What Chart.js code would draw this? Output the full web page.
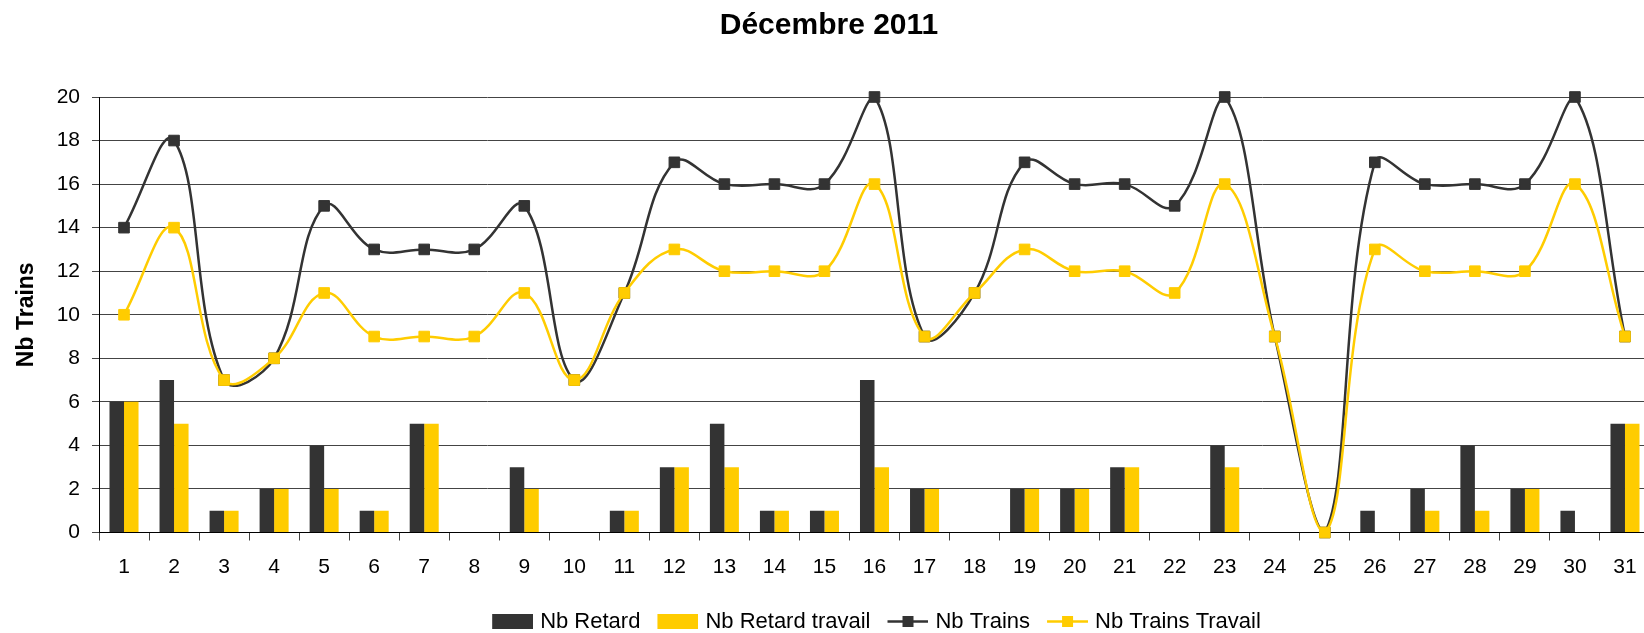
<!DOCTYPE html>
<html>
<head>
<meta charset="utf-8">
<script src="https://cdn.jsdelivr.net/npm/chart.js@4/dist/chart.umd.min.js"></script>
<style>
  html, body { margin: 0; padding: 0; background: #fff; overflow: hidden; }
  #wrap { position: relative; width: 1753px; height: 633px; }
  #titre {
    position: absolute; left: 0; top: 9px; width: 1658px;
    text-align: center; font: bold 30px 'Liberation Sans', Arial, sans-serif;
    line-height: 30px; color: #000;
  }
</style>
</head>
<body>
<div id="wrap">
  <canvas id="graph"></canvas>
  <div id="titre">Décembre 2011</div>
</div>
<script>
// Jours du mois
const jours = ['1','2','3','4','5','6','7','8','9','10','11','12','13','14','15','16',
               '17','18','19','20','21','22','23','24','25','26','27','28','29','30','31'];

// Barres
const nbRetard =        [6, 7, 1, 2, 4, 1, 5, 0, 3, 0, 1, 3, 5, 1, 1, 7, 2, 0, 2, 2, 3, 0, 4, 0, 0, 1, 2, 4, 2, 1, 5];
const nbRetardTravail = [6, 5, 1, 2, 2, 1, 5, 0, 2, 0, 1, 3, 3, 1, 1, 3, 2, 0, 2, 2, 3, 0, 3, 0, 0, 0, 1, 1, 2, 0, 5];

// Courbes
const nbTrains =        [14, 18, 7, 8, 15, 13, 13, 13, 15, 7, 11, 17, 16, 16, 16, 20, 9, 11, 17, 16, 16, 15, 20, 9, 0, 17, 16, 16, 16, 20, 9];
const nbTrainsTravail = [10, 14, 7, 8, 11, 9, 9, 9, 11, 7, 11, 13, 12, 12, 12, 16, 9, 11, 13, 12, 12, 11, 16, 9, 0, 13, 12, 12, 12, 16, 9];

const GRIS = '#333333';
const JAUNE = '#FFCC00';

// Icônes de légende (rectangle pour les barres, trait + carré pour les courbes)
// le canvas fait 45 px, le dessin occupe les 41 px de droite
function iconeBarre(couleur) {
  const c = document.createElement('canvas');
  c.width = 45; c.height = 15;
  const ctx = c.getContext('2d');
  ctx.fillStyle = couleur;
  ctx.fillRect(4, 0, 41, 15);
  return c;
}
function iconeLigne(couleur) {
  const c = document.createElement('canvas');
  c.width = 45; c.height = 11;
  const ctx = c.getContext('2d');
  ctx.strokeStyle = couleur;
  ctx.lineWidth = 2.5;
  ctx.beginPath();
  ctx.moveTo(4, 5.5);
  ctx.lineTo(45, 5.5);
  ctx.stroke();
  ctx.fillStyle = couleur;
  ctx.fillRect(19, 0, 11, 11);
  return c;
}
const icones = [iconeBarre(GRIS), iconeBarre(JAUNE), iconeLigne(GRIS), iconeLigne(JAUNE)];

Chart.defaults.font.family = "'Liberation Sans', Arial, sans-serif";
Chart.defaults.color = '#000';

const ctx = document.getElementById('graph').getContext('2d');
new Chart(ctx, {
  type: 'bar',
  data: {
    labels: jours,
    datasets: [
      {
        label: 'Nb Retard',
        data: nbRetard,
        backgroundColor: GRIS,
        barPercentage: 1,
        categoryPercentage: 0.58,
        order: 2
      },
      {
        label: 'Nb Retard travail',
        data: nbRetardTravail,
        backgroundColor: JAUNE,
        barPercentage: 1,
        categoryPercentage: 0.58,
        order: 2
      },
      {
        type: 'line',
        label: 'Nb Trains',
        data: nbTrains,
        borderColor: GRIS,
        backgroundColor: GRIS,
        borderWidth: 2.5,
        tension: 0.4,
        pointStyle: 'rect',
        pointRadius: 7.5,
        pointBorderWidth: 1,
        clip: false,
        order: 1
      },
      {
        type: 'line',
        label: 'Nb Trains Travail',
        data: nbTrainsTravail,
        borderColor: JAUNE,
        backgroundColor: JAUNE,
        borderWidth: 2.5,
        tension: 0.4,
        pointStyle: 'rect',
        pointRadius: 7.5,
        pointBorderWidth: 1,
        clip: false,
        order: 0
      }
    ]
  },
  options: {
    responsive: true,
    maintainAspectRatio: false,
    animation: false,
    layout: { padding: { top: 97, bottom: -9.5, left: 0, right: 0 } },
    plugins: {
      title: { display: false },
      tooltip: { enabled: false },
      legend: {
        position: 'bottom',
        labels: {
          usePointStyle: true,
          pointStyleWidth: 37,
          boxHeight: 15,
          padding: 17,
          font: { size: 22 },
          color: '#000',
          sort: (a, b) => a.datasetIndex - b.datasetIndex,
          generateLabels(chart) {
            const items = Chart.defaults.plugins.legend.labels.generateLabels(chart);
            items.forEach(it => { it.pointStyle = icones[it.datasetIndex]; });
            return items;
          }
        }
      }
    },
    scales: {
      x: {
        grid: {
          display: true,
          drawOnChartArea: false,
          drawTicks: true,
          offset: true,
          tickLength: 8,
          color: '#444'
        },
        border: { display: true, color: '#000', width: 1 },
        ticks: { font: { size: 21 }, padding: 14, color: '#000', autoSkip: false, maxRotation: 0 },
        afterFit(s) { s.height = 61; }
      },
      y: {
        min: 0,
        max: 20,
        ticks: { stepSize: 2, font: { size: 21 }, padding: 12, color: '#000' },
        grid: { color: '#444', tickLength: 7 },
        border: { display: true, color: '#000', width: 1 },
        title: {
          display: true,
          text: 'Nb Trains',
          font: { size: 23, weight: 'bold' },
          color: '#000',
          padding: { top: 13, bottom: 0 }
        },
        afterFit(s) { s.width = 99; }
      },
      reserve: {
        type: 'linear',
        position: 'right',
        display: true,
        grid: { display: false, drawTicks: false },
        border: { display: false },
        ticks: { display: false },
        afterFit(s) { s.width = 103; }
      }
    }
  }
});
</script>
</body>
</html>
